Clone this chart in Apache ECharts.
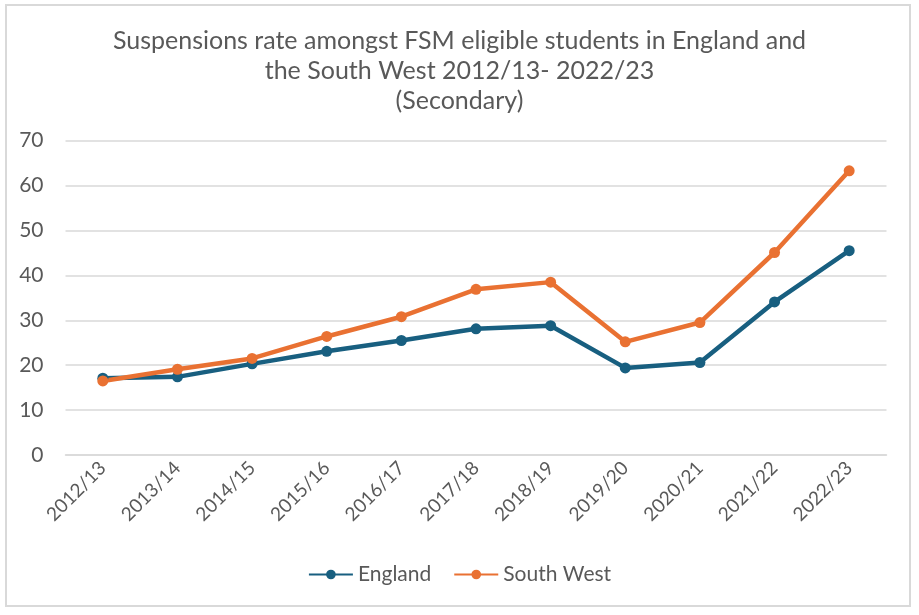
<!DOCTYPE html>
<html lang="en">
<head>
    <meta charset="UTF-8">
    <title>Suspensions rate FSM</title>
    <script src="https://cdn.jsdelivr.net/npm/echarts@6/dist/echarts.min.js"></script>
    <style>
        html, body { margin: 0; padding: 0; background: #fff; }
        #app { width: 919px; height: 615px; }
    </style>
</head>
<body>
    <div id="app"></div>
    <script>
        const years = ['2012/13', '2013/14', '2014/15', '2015/16', '2016/17', '2017/18',
            '2018/19', '2019/20', '2020/21', '2021/22', '2022/23']
        const england = [17.1, 17.4, 20.3, 23.1, 25.5, 28.1, 28.8, 19.4, 20.6, 34.1, 45.5]
        const southWest = [16.5, 19.1, 21.5, 26.4, 30.8, 36.9, 38.5, 25.2, 29.5, 45.1, 63.3]
        const titleText = 'Suspensions rate amongst FSM eligible students in England and\nthe South West 2012/13- 2022/23\n(Secondary)'

        const font = 'Lato, "Noto Sans", sans-serif'
        const grey = '#595959'

        let mCharts = echarts.init(document.getElementById('app'))
        let option = {
            textStyle: { fontFamily: font },
            graphic: [{
                type: 'rect',
                shape: { x: 6, y: 5, width: 904, height: 601 },
                style: { fill: 'none', stroke: '#d9d9d9', lineWidth: 2 },
                silent: true
            }],
            title: {
                text: titleText,
                left: 'center',
                top: 21,
                textStyle: {
                    fontFamily: font,
                    fontSize: 25,
                    fontWeight: 'normal',
                    color: grey,
                    lineHeight: 30
                }
            },
            legend: {
                bottom: 25,
                left: 'center',
                itemWidth: 44,
                itemHeight: 12,
                itemGap: 22,
                textStyle: { fontFamily: font, fontSize: 21, color: grey },
                data: ['England', 'South West']
            },
            grid: { left: 65.5, right: 32.5, top: 140.7, bottom: 160, containLabel: false },
            xAxis: {
                type: 'category',
                data: years,
                boundaryGap: true,
                axisLine: { lineStyle: { color: '#d9d9d9', width: 1.5 } },
                axisTick: { show: false },
                axisLabel: {
                    rotate: 45,
                    fontSize: 19,
                    color: grey,
                    margin: 10,
                    interval: 0
                }
            },
            yAxis: {
                type: 'value',
                min: 0,
                max: 70,
                interval: 10,
                axisLine: { show: false },
                axisTick: { show: false },
                axisLabel: { fontSize: 21, color: grey, margin: 22 },
                splitLine: { lineStyle: { color: '#d9d9d9', width: 1.5 } }
            },
            series: [
                {
                    name: 'England',
                    type: 'line',
                    data: england,
                    symbol: 'circle',
                    symbolSize: 11,
                    color: '#185f80',
                    lineStyle: { width: 4.5 }
                },
                {
                    name: 'South West',
                    type: 'line',
                    data: southWest,
                    symbol: 'circle',
                    symbolSize: 11,
                    color: '#e97132',
                    lineStyle: { width: 4.5 }
                }
            ]
        }
        mCharts.setOption(option)
    </script>
</body>
</html>
